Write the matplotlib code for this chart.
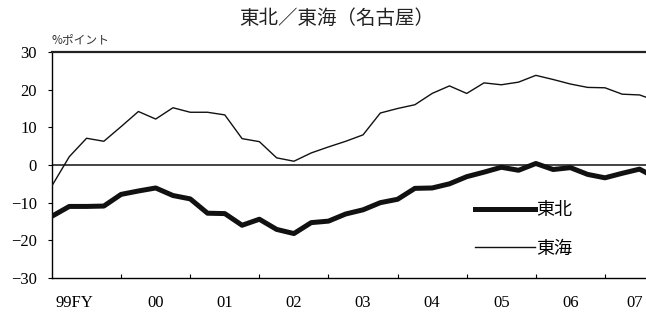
import matplotlib
matplotlib.use("Agg")
import matplotlib.pyplot as plt
import numpy as np

plt.rcParams['font.family'] = ['Liberation Serif', 'Noto Sans CJK JP', 'DejaVu Sans']

# quarterly series from FY99 Q1, % points
tohoku = [-13.6, -11.0, -11.0, -10.9, -7.8, -6.9, -6.1, -8.1, -9.0, -12.8,
          -12.9, -16.0, -14.4, -17.1, -18.2, -15.3, -14.9, -13.0, -11.9, -10.0,
          -9.1, -6.2, -6.1, -5.0, -3.1, -1.9, -0.6, -1.4, 0.4, -1.2,
          -0.7, -2.5, -3.4, -2.2, -1.1, -3.5]
tokai = [-5.5, 2.2, 7.1, 6.3, 10.2, 14.2, 12.2, 15.2, 14.0, 14.0,
         13.3, 7.0, 6.2, 1.9, 1.0, 3.2, 4.8, 6.3, 8.0, 13.8,
         15.0, 16.0, 19.0, 21.0, 19.0, 21.8, 21.3, 22.0, 23.8, 22.7,
         21.5, 20.6, 20.5, 18.8, 18.6, 17.0]
year_labels = ['99FY', '00', '01', '02', '03', '04', '05', '06', '07']
yticks = [30, 20, 10, 0, -10, -20, -30]

q = np.arange(len(tohoku))

fig = plt.figure(figsize=(6.46, 3.22), dpi=100)
ax = fig.add_axes([52 / 646, 44 / 322, 594 / 646, 226 / 322])

ax.axhline(0, color='#111111', lw=1.1, zorder=1)
ax.plot(q, tohoku, color='#111111', lw=3.6, label='東北', zorder=3)
ax.plot(q, tokai, color='#111111', lw=1.0, label='東海', zorder=3)

ax.set_xlim(0, 594 / 17.28)
ax.set_ylim(-30, 30)

ax.spines['right'].set_visible(False)
ax.spines['top'].set_linewidth(1.6)
ax.spines['top'].set_color('#222222')
ax.spines['left'].set_linewidth(1.0)
ax.spines['bottom'].set_linewidth(1.0)

ax.set_yticks(yticks)
ax.set_yticklabels([str(v).replace('-', '−') for v in yticks], fontsize=12)
ax.tick_params(axis='y', direction='out', length=3, width=0.8, pad=8)

# year boundaries as small inward ticks, year names in between
ax.set_xticks(np.arange(4, 36, 4))
ax.set_xticklabels([])
ax.tick_params(axis='x', which='major', direction='in', length=3, width=0.8)
label_pos = [1.3] + [4 * k + 2 for k in range(1, len(year_labels) - 1)] + [33.7]
ax.set_xticks(label_pos, minor=True)
ax.set_xticklabels(year_labels, minor=True, fontsize=12)
ax.tick_params(axis='x', which='minor', length=0, pad=12)

ax.text(0.0, 1.025, '%ポイント', transform=ax.transAxes, fontsize=8.5,
        family=['Noto Sans CJK JP'], color='#333333', va='bottom', ha='left')

fig.text(337 / 646, 1 - 18 / 322, '東北／東海（名古屋）', fontsize=14,
         family=['Noto Sans CJK JP'], ha='center', va='center', color='#222222')

leg = ax.legend(loc='upper left', bbox_to_anchor=(475 / 646, 1 - 201 / 322),
                bbox_transform=fig.transFigure, frameon=False, borderpad=0,
                borderaxespad=0, handlelength=3.3, handletextpad=0.1,
                labelspacing=1.15, prop={'family': 'Noto Sans CJK JP', 'size': 13})

fig.savefig('out.png', dpi=100)
